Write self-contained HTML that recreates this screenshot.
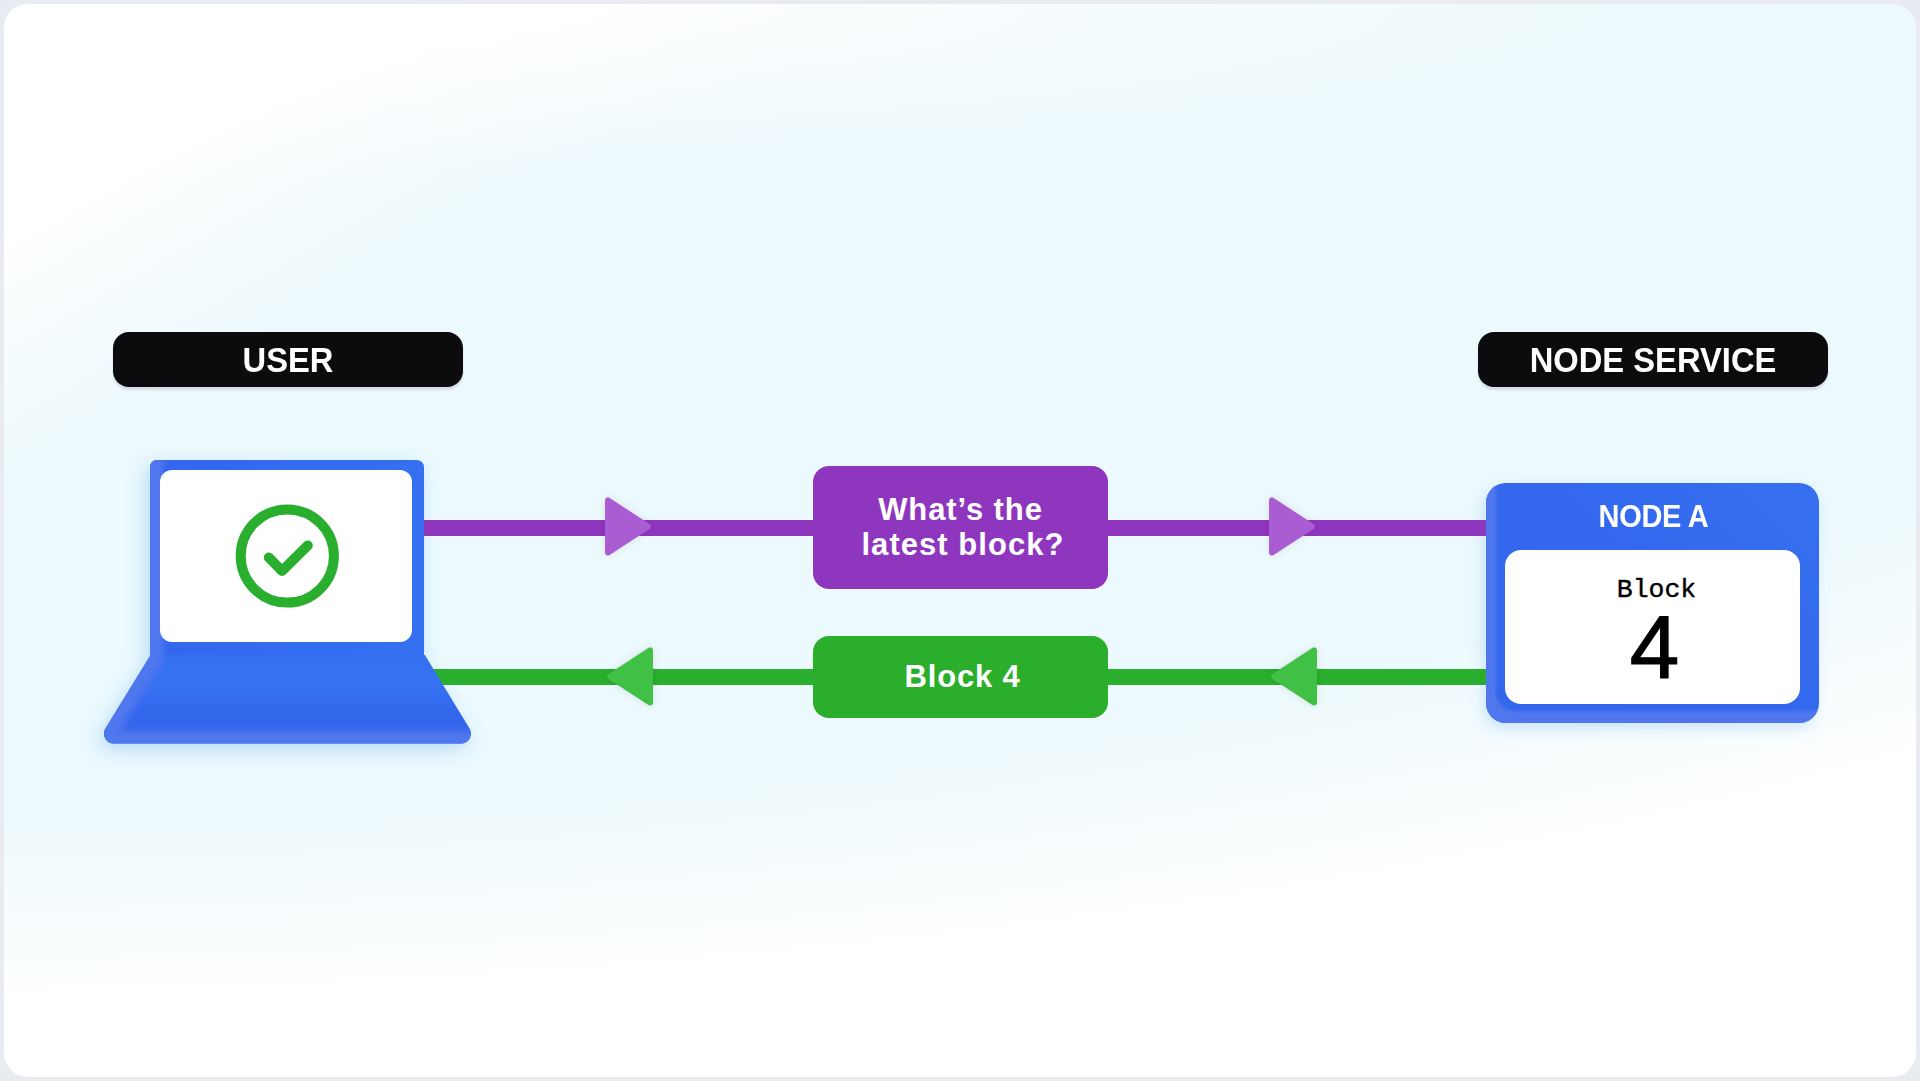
<!DOCTYPE html>
<html>
<head>
<meta charset="utf-8">
<style>
html,body{margin:0;padding:0;}
body{width:1920px;height:1081px;background:#e8ebf0;position:relative;overflow:hidden;font-family:"Liberation Sans",sans-serif;}
.card{position:absolute;left:4px;top:4px;width:1912px;height:1073px;border-radius:24px;overflow:hidden;background:#ecf9fd;}
.abs{position:absolute;}
.label{position:absolute;top:332px;width:350px;height:54.6px;border-radius:16px;background:#0c0c0f;color:#fff;
  box-shadow:0 3px 2px 0 rgba(205,210,220,0.75);}
.label span{position:absolute;left:0;right:0;top:1px;text-align:center;font-weight:bold;font-size:35px;line-height:54px;transform:scaleX(0.935);}
.line{position:absolute;height:16px;}
.box{position:absolute;left:813px;width:295px;border-radius:16px;color:#fff;font-weight:bold;text-align:center;}
.t{position:absolute;left:0;right:0;text-align:center;white-space:nowrap;}
</style>
</head>
<body>
<div class="card">
  <div class="abs" style="left:0;top:0;width:1912px;height:1073px;
    background:
      linear-gradient(150deg, #ffffff 0px, #ffffff 200px, rgba(255,255,255,0.5) 310px, rgba(255,255,255,0) 440px),
      radial-gradient(ellipse 1500px 170px at 300px 0px, rgba(255,255,255,0.85) 20%, rgba(255,255,255,0) 100%),
      radial-gradient(ellipse 3056px 999px at -69px 0px, rgba(255,255,255,0) 0%, rgba(255,255,255,0) 80%, rgba(255,255,255,0.5) 90%, #ffffff 100%);"></div>
</div>

<!-- labels -->
<div class="label" style="left:113px;"><span>USER</span></div>
<div class="label" style="left:1478px;"><span>NODE SERVICE</span></div>

<!-- glows -->
<svg class="abs" style="left:0;top:0;" width="1920" height="1081" viewBox="0 0 1920 1081">
  <defs>
    <filter id="glowf" x="-30%" y="-30%" width="160%" height="160%">
      <feGaussianBlur in="SourceAlpha" stdDeviation="9" result="b"/>
      <feOffset in="b" dx="-4" dy="6" result="o"/>
      <feFlood flood-color="#3d95e6" flood-opacity="0.30" result="f"/>
      <feComposite in="f" in2="o" operator="in"/>
    </filter>
    <filter id="glowf2" x="-30%" y="-30%" width="160%" height="160%">
      <feGaussianBlur in="SourceAlpha" stdDeviation="7" result="b"/>
      <feOffset in="b" dx="-3" dy="6" result="o"/>
      <feFlood flood-color="#3d95e6" flood-opacity="0.22" result="f"/>
      <feComposite in="f" in2="o" operator="in"/>
    </filter>
  </defs>
  <path d="M158 460 L416 460 Q424 460 424 468 L424 652 Q424 654 425.5 656 L469.7 728.8 A10 10 0 0 1 461.1 743.6 L113.6 743.6 A10 10 0 0 1 105.2 728.8 L150 656 L150 468 Q150 460 158 460 Z" fill="#000" filter="url(#glowf)"/>
  <rect x="1486" y="483" width="333" height="240" rx="20" fill="#000" filter="url(#glowf2)"/>
</svg>

<!-- lines -->
<div class="line" style="left:420px;top:520px;width:1070px;background:#8f36be;"></div>
<div class="line" style="left:430px;top:669px;width:1060px;background:#2aae2d;"></div>

<!-- arrowheads -->
<svg class="abs" style="left:0;top:0;" width="1920" height="1081" viewBox="0 0 1920 1081">
  <defs>
    <filter id="sh" x="-50%" y="-50%" width="200%" height="200%">
      <feGaussianBlur in="SourceAlpha" stdDeviation="4"/>
      <feComponentTransfer><feFuncA type="linear" slope="0.10"/></feComponentTransfer>
      <feMerge><feMergeNode/><feMergeNode in="SourceGraphic"/></feMerge>
    </filter>
  </defs>
  <g filter="url(#sh)" stroke-width="6" stroke-linejoin="round">
    <polygon points="608,500.5 608,552.5 647.8,526.5" fill="#aa5cd3" stroke="#aa5cd3"/>
    <polygon points="1272,500.5 1272,552.5 1311.8,526.5" fill="#aa5cd3" stroke="#aa5cd3"/>
    <polygon points="650,650.5 650,702.5 610.2,676.5" fill="#41c044" stroke="#41c044"/>
    <polygon points="1314,650.5 1314,702.5 1274.2,676.5" fill="#41c044" stroke="#41c044"/>
  </g>
</svg>

<!-- middle boxes -->
<div class="box" style="top:466px;height:123px;background:#8f36be;font-size:31px;line-height:35px;letter-spacing:0.9px;">
  <div class="t" style="top:26px;">What’s the</div>
  <div class="t" style="top:61px;left:5px;letter-spacing:1.05px;">latest block?</div>
</div>
<div class="box" style="top:636px;height:82px;background:#2aae2c;font-size:31px;line-height:82px;letter-spacing:0.8px;">
  <div class="t" style="top:0;left:4px;">Block 4</div>
</div>

<!-- laptop -->
<svg class="abs" style="left:0;top:0;" width="1920" height="1081" viewBox="0 0 1920 1081">
  <defs>
    <filter id="glow2" x="-30%" y="-30%" width="160%" height="160%">
      <feGaussianBlur in="SourceAlpha" stdDeviation="9" result="b"/>
      <feOffset in="b" dy="6" result="o"/>
      <feFlood flood-color="#3d95e6" flood-opacity="0.20" result="f"/>
      <feComposite in="f" in2="o" operator="in" result="s"/>
      <feMerge><feMergeNode in="s"/><feMergeNode in="SourceGraphic"/></feMerge>
    </filter>
    <filter id="bl2" x="-20%" y="-20%" width="140%" height="140%"><feGaussianBlur stdDeviation="3"/></filter>
    <clipPath id="lapclip"><path d="M158 460 L416 460 Q424 460 424 468 L424 652 Q424 654 425.5 656 L469.7 728.8 A10 10 0 0 1 461.1 743.6 L113.6 743.6 A10 10 0 0 1 105.2 728.8 L150 656 L150 468 Q150 460 158 460 Z"/></clipPath>
    <linearGradient id="frameg" x1="0" y1="0" x2="1" y2="0">
      <stop offset="0" stop-color="#3266ee"/>
      <stop offset="1" stop-color="#3570f0"/>
    </linearGradient>
    <linearGradient id="baseg" x1="0" y1="0" x2="0" y2="1">
      <stop offset="0" stop-color="#3570f0"/>
      <stop offset="0.35" stop-color="#3571f1"/>
      <stop offset="0.65" stop-color="#3266ec"/>
      <stop offset="1" stop-color="#3266ec"/>
    </linearGradient>
  </defs>
  <g clip-path="url(#lapclip)">
    <rect x="150" y="460" width="274" height="200" fill="url(#frameg)"/>
    <rect x="100" y="655" width="380" height="90" fill="url(#baseg)"/>
    <path d="M150 430 L150 656 L95.9 744 L490 744" stroke="#5077ee" stroke-width="27" fill="none" stroke-linejoin="round" filter="url(#bl2)"/>
    <path d="M150 430 L150 640" stroke="#5077ee" stroke-width="20" fill="none"/>
  </g>
  <rect x="160" y="470" width="252" height="172" rx="12" fill="#fff"/>
  <circle cx="287.3" cy="556" r="46.6" fill="none" stroke="#29ae2e" stroke-width="10"/>
  <path d="M268.8 557.6 L282 571 L307.8 545.4" fill="none" stroke="#29ae2e" stroke-width="10" stroke-linecap="round" stroke-linejoin="round"/>
</svg>

<!-- node A -->
<div class="abs" style="left:1486px;top:483px;width:333px;height:240px;border-radius:20px;background:linear-gradient(225deg,#3670ef 0%,#3368ee 45%,#3266ed 100%);
  box-shadow:inset 10px -12px 3px 0 #5077ee;"></div>
<div class="abs" style="left:1487px;top:484px;width:333px;height:67px;text-align:center;color:#fff;font-weight:bold;font-size:31px;line-height:66px;letter-spacing:-0.3px;transform:scaleX(0.935);">NODE A</div>
<div class="abs" style="left:1505px;top:550px;width:295px;height:154px;border-radius:16px;background:#fff;"></div>
<div class="abs" style="left:1505px;top:575px;left:1509px;width:295px;text-align:center;color:#000;font-family:'Liberation Mono',monospace;font-size:26.5px;line-height:30px;-webkit-text-stroke:0.4px #000;">Block</div>
<div class="abs" style="left:1507px;top:597px;width:295px;text-align:center;color:#000;font-size:89px;line-height:100px;-webkit-text-stroke:1.2px #000;">4</div>

</body>
</html>
